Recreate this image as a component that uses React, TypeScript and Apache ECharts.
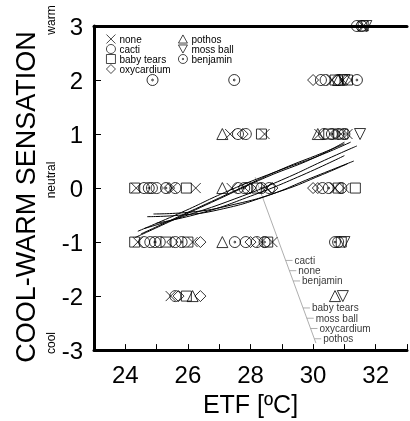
import React, { useEffect, useRef } from "react";
import * as echarts from "echarts";

// ---- data ----
const noneX = [31.6, 30.6, 30.95, 27.35, 28.45, 30.2, 30.9, 31.1, 24.35, 25.5, 26.25, 27.4, 28.5, 30.7, 31.0, 24.4, 26.15, 28.35, 28.7, 25.45];
const noneY = [3, 2, 2, 1, 1, 1, 1, 1, 0, 0, 0, 0, 0, 0, 0, -1, -1, -1, -1, -2];

const cactiX = [31.4, 30.25, 30.4, 30.8, 27.6, 27.85, 30.35, 30.8, 24.6, 24.85, 25.0, 25.6, 27.6, 27.9, 28.6, 30.3, 30.9, 24.6, 24.8, 25.1, 25.6, 27.85, 28.2, 30.8, 25.6];
const cactiY = [3, 2, 2, 2, 1, 1, 1, 1, 0, 0, 0, 0, 0, 0, 0, 0, 0, -1, -1, -1, -1, -1, -1, -1, -2];

const babyTearsX = [31.6, 30.7, 31.1, 28.35, 30.5, 30.95, 24.3, 25.95, 28.2, 30.8, 31.35, 24.3, 25.3, 26.0, 28.55, 30.9, 25.95];
const babyTearsY = [3, 2, 2, 1, 1, 1, 0, 0, 0, 0, 0, -1, -1, -1, -1, -1, -2];

const oxycardiumX = [30.0, 31.05, 27.75, 30.7, 25.4, 28.0, 28.7, 30.0, 30.15, 25.5, 26.4, 28.0, 25.7, 26.4];
const oxycardiumY = [2, 2, 1, 1, 0, 0, 0, 0, 0, -1, -1, -1, -2, -2];

const pothosX = [30.8, 27.1, 30.15, 27.1, 27.1, 26.15, 30.7];
const pothosY = [2, 1, 1, 0, -1, -2, -2];

const mossBallX = [31.7, 31.0, 31.5, 31.0, 30.95];
const mossBallY = [3, 2, 1, -1, -2];

const benjaminX = [31.55, 24.87, 27.48, 31.4, 30.6, 31.0, 24.75, 25.3, 27.8, 28.35, 30.5, 24.95, 25.8, 27.5, 28.45, 30.7];
const benjaminY = [3, 2, 2, 2, 1, 1, 0, 0, 0, 0, 0, -1, -1, -1, -1, -1];

// fitted curves
const curve1 = [[24.3, -0.92], [25.5, -0.6], [27.0, -0.2], [28.5, 0.2], [30.0, 0.55], [31.0, 0.85]];
const curve2 = [[24.5, -0.85], [26.0, -0.45], [27.5, -0.05], [29.0, 0.35], [30.3, 0.65], [31.0, 0.82]];
const curve3 = [[24.6, -0.75], [26.0, -0.5], [27.5, -0.2], [29.0, 0.15], [30.5, 0.55], [31.4, 0.78]];
const curve4 = [[24.7, -0.53], [25.8, -0.5], [27.0, -0.4], [28.5, -0.15], [30.0, 0.2], [31.3, 0.5]];
const curve5 = [[24.9, -0.48], [26.0, -0.45], [27.5, -0.3], [29.0, -0.05], [30.3, 0.25], [31.1, 0.45]];
const curve6 = [[25.0, -0.65], [26.5, -0.45], [28.0, -0.15], [29.5, 0.2], [31.0, 0.6]];
const curve7 = [[24.4, -0.8], [25.8, -0.45], [27.3, -0.05], [28.8, 0.3], [30.2, 0.6], [31.2, 0.85]];
const curves = [curve1, curve2, curve3, curve4, curve5, curve6, curve7];

// curve labels with leader line
const leaderStart = [28.15, 0.2];
const leaderEnd = [30.09, -2.87];
const curveLabels = ["cacti", "none", "benjamin", "baby tears", "moss ball", "oxycardium", "pothos"];
const curveLabelY = [-1.34, -1.53, -1.72, -2.22, -2.41, -2.6, -2.79];

const xTicks = [24, 26, 28, 30, 32];
const yTicks = [-3, -2, -1, 0, 1, 2, 3];

const SYM_X = "path://M0,0L10,10M10,0L0,10";
const SYM_DOWN = "path://M0,0L10,0L5,9Z";
const SYM_UP = "path://M5,0L10,9L0,9Z";
const SYM_DOT = "path://M10,5A5,5,0,1,1,0,5A5,5,0,1,1,10,5ZM5.8,5A0.8,0.8,0,1,1,4.2,5A0.8,0.8,0,1,1,5.8,5Z";

const FONT = "Liberation Sans";

function zip(xs: number[], ys: number[]) {
  return xs.map((x, i) => [x, ys[i]]);
}

export default function App() {
  const ref = useRef<HTMLDivElement>(null);
  useEffect(() => {
    if (!ref.current) return;
    const chart = echarts.init(ref.current, undefined, { renderer: "svg" });

    const markerStyle = { color: "rgba(0,0,0,0)", borderColor: "#000", borderWidth: 1 };
    const scatter = (name: string, symbol: string, xs: number[], ys: number[], size = 11) => ({
      type: "scatter",
      name,
      symbol,
      symbolSize: size,
      itemStyle: markerStyle,
      data: zip(xs, ys),
      z: 3,
    });

    const slope = (leaderEnd[0] - leaderStart[0]) / (leaderEnd[1] - leaderStart[1]);
    const leaderX = (y: number) => leaderStart[0] + (y - leaderStart[1]) * slope;

    const curveSeries = curves.map((c, i) => ({
      type: "line",
      name: "curve" + i,
      data: c,
      smooth: true,
      symbol: "none",
      lineStyle: { color: "#000", width: 1 },
      silent: true,
      z: 4,
    }));

    const tickSeries = curveLabelY.map((y, i) => ({
      type: "line",
      name: "tick" + i,
      data: [[leaderX(y), y], [leaderX(y) + 0.22, y]],
      symbol: "none",
      lineStyle: { color: "#999", width: 0.8 },
      silent: true,
    }));

    const legendBase = {
      orient: "vertical",
      top: 34,
      padding: 0,
      itemWidth: 9,
      itemHeight: 9,
      itemGap: 0,
      itemStyle: { color: "rgba(0,0,0,0)", borderColor: "#000", borderWidth: 0.9 },
      textStyle: { fontSize: 10, lineHeight: 10, fontFamily: FONT, color: "#000", padding: [0, 0, 0, -1] },
    };

    const option: any = {
      animation: false,
      grid: { left: 94, top: 26, width: 326, height: 327 },
      legend: [
        { ...legendBase, data: ["none", "cacti", "baby tears", "oxycardium"], left: 106 },
        { ...legendBase, data: ["pothos", "moss ball", "benjamin"], left: 178 },
      ],
      xAxis: [
        {
          type: "value",
          min: 23,
          max: 33,
          interval: 1,
          position: "bottom",
          name: "ETF [ºC]",
          nameLocation: "middle",
          nameGap: 40,
          nameTextStyle: { fontSize: 25, fontFamily: FONT, color: "#000" },
          axisLine: { show: true, onZero: false, lineStyle: { color: "#000", width: 3 } },
          axisTick: { show: true, inside: true, length: 6, lineStyle: { color: "#000", width: 1 } },
          axisLabel: {
            fontSize: 24,
            fontFamily: FONT,
            color: "#000",
            margin: 12,
            formatter: (v: number) => (xTicks.includes(v) ? String(v) : ""),
          },
          splitLine: { show: false },
        },
        {
          type: "value",
          min: 23,
          max: 33,
          position: "top",
          axisLine: { show: true, onZero: false, lineStyle: { color: "#000", width: 3 } },
          axisTick: { show: false },
          axisLabel: { show: false },
          splitLine: { show: false },
        },
      ],
      yAxis: [
        {
          type: "value",
          min: -3,
          max: 3,
          interval: 1,
          name: "COOL-WARM SENSATION",
          nameLocation: "middle",
          nameGap: 55,
          nameTextStyle: { fontSize: 27, fontFamily: FONT, color: "#000", padding: [0, 18, 0, 0] },
          axisLine: { show: true, onZero: false, lineStyle: { color: "#000", width: 3 } },
          axisTick: { show: true, inside: true, length: 7, lineStyle: { color: "#000", width: 1 } },
          axisLabel: {
            fontSize: 24,
            fontFamily: FONT,
            color: "#000",
            margin: 11,
            formatter: (v: number) => (yTicks.includes(v) ? String(v) : ""),
          },
          splitLine: { show: false },
        },
      ],
      graphic: [
        { type: "text", x: 51, y: 20, rotation: Math.PI / 2, style: { text: "warm", font: `12px "${FONT}"`, fill: "#000", textAlign: "center", textVerticalAlign: "middle" } },
        { type: "text", x: 51, y: 180, rotation: Math.PI / 2, style: { text: "neutral", font: `12px "${FONT}"`, fill: "#000", textAlign: "center", textVerticalAlign: "middle" } },
        { type: "text", x: 51, y: 343, rotation: Math.PI / 2, style: { text: "cool", font: `12px "${FONT}"`, fill: "#000", textAlign: "center", textVerticalAlign: "middle" } },
      ],
      series: [
        scatter("none", SYM_X, noneX, noneY, 10),
        scatter("cacti", "circle", cactiX, cactiY, 11),
        scatter("baby tears", "rect", babyTearsX, babyTearsY, 10),
        scatter("oxycardium", "diamond", oxycardiumX, oxycardiumY, 11),
        scatter("pothos", SYM_UP, pothosX, pothosY, 11),
        scatter("moss ball", SYM_DOWN, mossBallX, mossBallY, 11),
        scatter("benjamin", SYM_DOT, benjaminX, benjaminY, 11),
        ...curveSeries,
        {
          type: "line",
          name: "leader",
          data: [leaderStart, leaderEnd],
          symbol: "none",
          lineStyle: { color: "#999", width: 0.8 },
          silent: true,
        },
        ...tickSeries,
        {
          type: "scatter",
          name: "curveLabels",
          symbolSize: 0,
          silent: true,
          data: curveLabelY.map((y, i) => ({ value: [leaderX(y) + 0.22, y], name: curveLabels[i] })),
          label: {
            show: true,
            position: "right",
            distance: 2,
            formatter: (p: any) => p.name,
            fontSize: 10,
            lineHeight: 8,
            fontFamily: FONT,
            color: "#000",
          },
        },
      ],
    };
    chart.setOption(option);
    return () => chart.dispose();
  }, []);
  return <div ref={ref} style={{ position: "fixed", left: 0, top: 0, width: 410, height: 421 }} />;
}
